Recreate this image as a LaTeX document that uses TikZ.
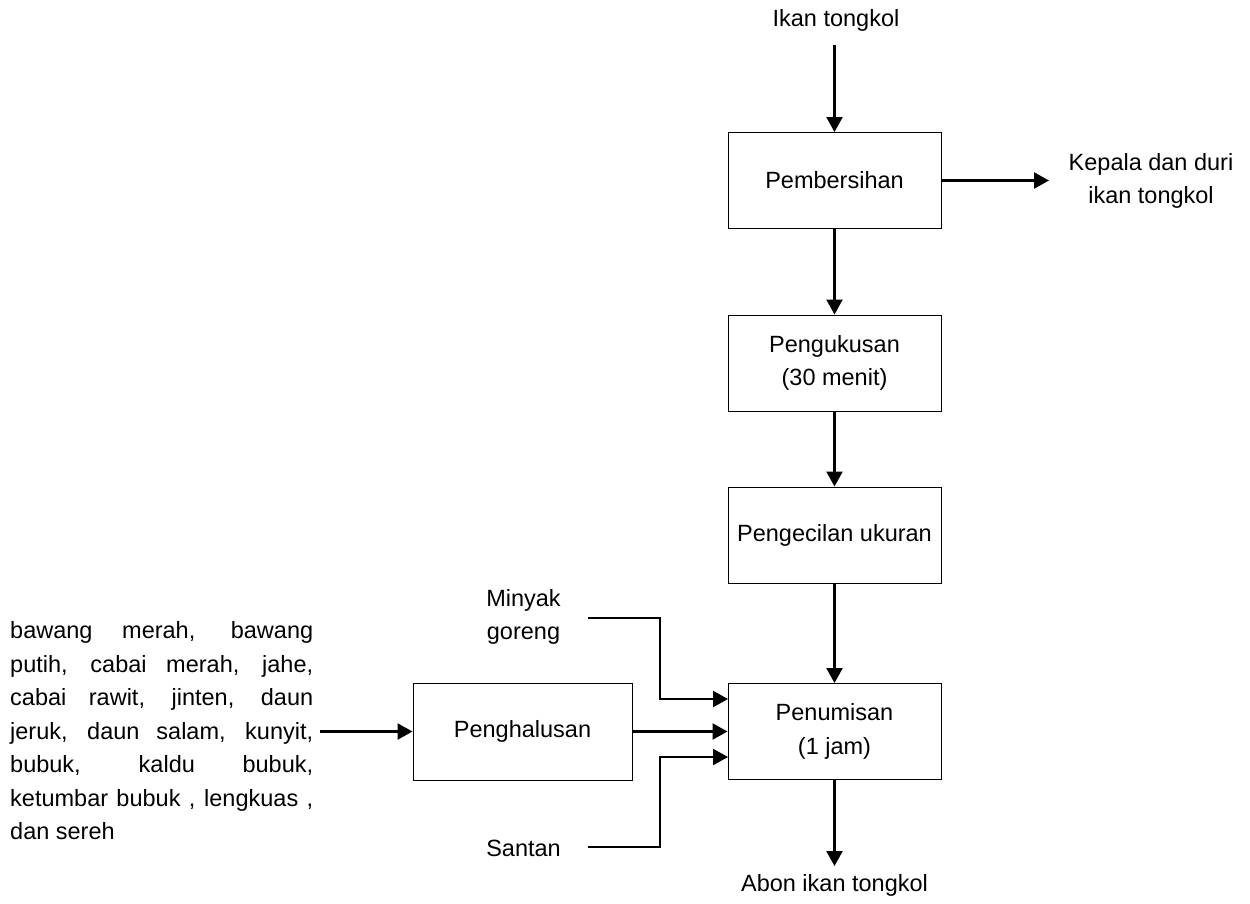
\documentclass[tikz,border=0pt]{standalone}
\usepackage{fontspec}
\setmainfont{Liberation Sans}
\usetikzlibrary{arrows.meta}
\begin{document}
\begin{tikzpicture}[x=1pt,y=-1pt,
  every node/.style={font=\fontsize{23.5}{33.5}\selectfont, inner sep=0pt},
  procbox/.style={draw, line width=1pt, minimum width=213pt, minimum height=96pt, align=center},
  lbl/.style={align=center},
  arr/.style={line width=2.2pt, -{Triangle[length=15pt,width=16pt]}}]
\useasboundingbox (0,0) rectangle (1250,903);
% process boxes
\node[procbox] (bersih) at (834.5,180.5) {Pembersihan};
\node[procbox] (kukus) at (834.5,363) {Pengukusan\\(30 menit)};
\node[procbox] (kecil) at (834.5,535) {Pengecilan ukuran};
\node[procbox] (tumis) at (834.5,731.5) {Penumisan\\(1 jam)};
\node[procbox, minimum width=219pt, minimum height=97pt] (halus) at (522.5,731.5) {Penghalusan};
% labels
\node[lbl] (ikan) at (836,20) {Ikan tongkol};
\node[lbl] (kepala) at (1151,181) {Kepala dan duri\\ikan tongkol};
\node[lbl] (minyak) at (523.5,617) {Minyak\\goreng};
\node[lbl] (santan) at (523.5,848) {Santan};
\node[lbl] (abon) at (834.5,885) {Abon ikan tongkol};
\node[align=left, anchor=west] (bumbu) at (10,731) {%
\makebox[303pt][s]{bawang merah, bawang}\\
\makebox[303pt][s]{putih, cabai merah, jahe,}\\
\makebox[303pt][s]{cabai rawit, jinten, daun}\\
\makebox[303pt][s]{jeruk, daun salam, kunyit,}\\
\makebox[303pt][s]{bubuk, kaldu bubuk,}\\
\makebox[303pt][s]{ketumbar bubuk , lengkuas ,}\\
\makebox[303pt][l]{dan sereh}};
% coordinates
\coordinate (ikanEnd) at (834.5,45);
\coordinate (bumbuEnd) at (320,731.5);
\coordinate (m1) at (588,618);
\coordinate (s1) at (588,847);
\coordinate (tin1) at (728,699);
\coordinate (tin3) at (728,757);
\coordinate (kepEnd) at (1049,180.5);
\coordinate (abonEnd) at (834.5,866);
% connectors
\draw[arr] (ikanEnd) -- (bersih.north);
\draw[arr] (bersih.east) -- (kepEnd);
\draw[arr] (bersih.south) -- (kukus.north);
\draw[arr] (kukus.south) -- (kecil.north);
\draw[arr] (kecil.south) -- (tumis.north);
\draw[arr] (tumis.south) -- (abonEnd);
\draw[arr] (bumbuEnd) -- (halus.west);
\draw[arr] (halus.east) -- (tumis.west);
\draw[arr] (m1) -| (660,699) -- (tin1);
\draw[arr] (s1) -| (660,757) -- (tin3);
\end{tikzpicture}
\end{document}
